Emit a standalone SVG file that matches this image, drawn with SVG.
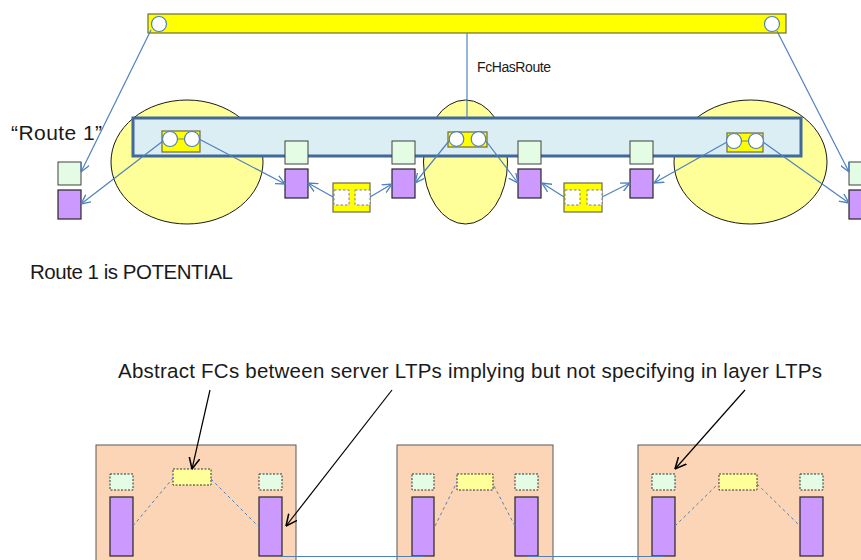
<svg xmlns="http://www.w3.org/2000/svg" width="861" height="560" viewBox="0 0 861 560">
<defs>
<marker id="ab" viewBox="0 0 10 10" refX="9.5" refY="5" markerWidth="10" markerHeight="10" markerUnits="userSpaceOnUse" orient="auto"><path d="M0,0.5 L9.5,5 L0,9.5" fill="none" stroke="#4F81BD" stroke-width="1.3"/></marker>
<marker id="ak" viewBox="0 0 10 10" refX="9.5" refY="5" markerWidth="12" markerHeight="12" markerUnits="userSpaceOnUse" orient="auto"><path d="M0,0.5 L9.5,5 L0,9.5" fill="none" stroke="#000" stroke-width="1.3"/></marker>
</defs>
<style>
text{font-family:"Liberation Sans",Arial,sans-serif;fill:#1a1a1a}
.bar{fill:#FFFF00;stroke:#6b6b4a;stroke-width:1.2}
.cir{fill:#fff;stroke:#4F81BD;stroke-width:1.2}
.ell{fill:#FFFF99;stroke:#1a1a1a;stroke-width:1}
.grn{fill:#E3FCE3;stroke:#404040;stroke-width:1}
.pur{fill:#CC99FF;stroke:#262626;stroke-width:1.2}
.wd{fill:#fff;stroke:#7f7f7f;stroke-width:1;stroke-dasharray:2.5,2}
.gd{fill:#E3FCE3;stroke:#333;stroke-width:1;stroke-dasharray:2,1.5}
.yd{fill:#FFFF99;stroke:#333;stroke-width:1;stroke-dasharray:2,1.5}
.box{fill:#FBD5B5;stroke:#595959;stroke-width:1}
.ar{fill:none;stroke:#4F81BD;stroke-width:1.2;marker-end:url(#ab)}
.ka{fill:none;stroke:#000;stroke-width:1.2;marker-end:url(#ak)}
.dl{fill:none;stroke:#4F81BD;stroke-width:1;stroke-dasharray:3,3}
.sl{fill:none;stroke:#4F81BD;stroke-width:1.2}
</style>
<g id="ellipses">
<ellipse class="ell" cx="187" cy="162" rx="76" ry="62"/>
<ellipse class="ell" cx="465.5" cy="162" rx="42" ry="62"/>
<ellipse class="ell" cx="750.5" cy="162" rx="76.5" ry="62"/>
</g>
<g id="fc-top">
<rect class="bar" x="148" y="14" width="638" height="19"/>
<circle class="cir" cx="159" cy="24" r="7.5"/>
<circle class="cir" cx="772" cy="24" r="7.5"/>
</g>
<g id="route">
<rect x="133" y="118" width="668" height="38" fill="#DBEEF4" stroke="#41699A" stroke-width="3"/>
</g>
<g id="twin1">
<rect class="bar" x="162" y="131" width="38" height="21"/>
<line x1="170" y1="139" x2="192" y2="139" stroke="#7f7f7f"/>
<circle class="cir" cx="170" cy="139" r="7.5"/><circle class="cir" cx="192" cy="139" r="7.5"/>
</g>
<g id="twin2">
<rect class="bar" x="448" y="132" width="39" height="15"/>
<circle class="cir" cx="456.5" cy="139" r="7.3"/><circle class="cir" cx="478.5" cy="139" r="7.3"/>
</g>
<g id="twin3">
<rect class="bar" x="727" y="133" width="36" height="19"/>
<line x1="734" y1="141" x2="756" y2="141" stroke="#7f7f7f"/>
<circle class="cir" cx="734" cy="141" r="7.5"/><circle class="cir" cx="756" cy="141" r="7.5"/>
</g>
<g id="ltp0"><rect class="grn" x="58" y="162" width="23" height="23"/><rect class="pur" x="58" y="190" width="23" height="29"/></g>
<g id="ltp1"><rect class="grn" x="285" y="141" width="23" height="23"/><rect class="pur" x="285" y="169" width="23" height="29"/></g>
<g id="ltp2"><rect class="grn" x="392" y="141" width="23" height="23"/><rect class="pur" x="392" y="169" width="23" height="29"/></g>
<g id="ltp3"><rect class="grn" x="518" y="141" width="23" height="23"/><rect class="pur" x="518" y="169" width="23" height="29"/></g>
<g id="ltp4"><rect class="grn" x="630" y="141" width="23" height="23"/><rect class="pur" x="630" y="169" width="23" height="29"/></g>
<g id="ltp5"><rect class="grn" x="849" y="162" width="23" height="23"/><rect class="pur" x="849" y="190" width="23" height="29"/></g>
<g id="link1">
<rect class="bar" x="333" y="183" width="37" height="29"/>
<rect class="wd" x="334" y="190" width="15" height="15"/><rect class="wd" x="355" y="190" width="15" height="15"/>
</g>
<g id="link2">
<rect class="bar" x="564" y="183" width="38" height="29"/>
<rect class="wd" x="565" y="190" width="15" height="15"/><rect class="wd" x="587" y="190" width="15" height="15"/>
</g>
<g id="connectors">
<line class="sl" x1="467" y1="33" x2="467" y2="118"/>
<line class="ar" x1="151" y1="30" x2="81" y2="172"/>
<line class="ar" x1="163" y1="141" x2="81" y2="204"/>
<line class="ar" x1="199" y1="139" x2="285" y2="184"/>
<line class="ar" x1="333" y1="197" x2="308" y2="183"/>
<line class="ar" x1="370" y1="197" x2="392" y2="184"/>
<line class="ar" x1="449" y1="141" x2="415" y2="183"/>
<line class="ar" x1="486" y1="141" x2="518" y2="183"/>
<line class="ar" x1="564" y1="197" x2="542" y2="183"/>
<line class="ar" x1="602" y1="197" x2="630" y2="183"/>
<line class="ar" x1="727" y1="142" x2="654" y2="183"/>
<line class="ar" x1="763" y1="142" x2="849" y2="203"/>
<line class="ar" x1="777" y1="31" x2="849" y2="172"/>
</g>
<g id="labels">
<text x="477" y="72" font-size="14" textLength="74">FcHasRoute</text>
<text x="11" y="140" font-size="21" textLength="91">“Route 1”</text>
<text x="30" y="279" font-size="20.5" textLength="203">Route 1 is POTENTIAL</text>
<text x="118" y="378" font-size="20.5" textLength="704">Abstract FCs between server LTPs implying but not specifying in layer LTPs</text>
</g>
<g id="box1">
<rect class="box" x="96" y="445" width="200" height="130"/>
<rect class="gd" x="110" y="474" width="23" height="16"/>
<rect class="yd" x="173" y="469" width="38" height="16"/>
<rect class="gd" x="259" y="474" width="23" height="16"/>
<rect class="pur" x="110" y="497" width="23" height="59"/>
<rect class="pur" x="259" y="497" width="23" height="59"/>
</g>
<g id="box2">
<rect class="box" x="397" y="445" width="156" height="130"/>
<rect class="gd" x="412" y="474" width="22" height="16"/>
<rect class="yd" x="457" y="474" width="36" height="16"/>
<rect class="gd" x="515" y="474" width="23" height="16"/>
<rect class="pur" x="412" y="497" width="22" height="59"/>
<rect class="pur" x="515" y="497" width="23" height="59"/>
</g>
<g id="box3">
<rect class="box" x="638" y="445" width="240" height="130"/>
<rect class="gd" x="652" y="474" width="23" height="16"/>
<rect class="yd" x="719" y="474" width="38" height="16"/>
<rect class="gd" x="800" y="474" width="23" height="16"/>
<rect class="pur" x="652" y="497" width="23" height="59"/>
<rect class="pur" x="800" y="497" width="23" height="59"/>
</g>
<g id="lower-connectors">
<line class="dl" x1="133" y1="526" x2="173" y2="478"/>
<line class="dl" x1="211" y1="479" x2="259" y2="527"/>
<line class="dl" x1="435" y1="526" x2="457" y2="482"/>
<line class="dl" x1="494" y1="486" x2="515" y2="526"/>
<line class="dl" x1="675" y1="526" x2="719" y2="483"/>
<line class="dl" x1="757" y1="484" x2="800" y2="526"/>
<line class="sl" x1="282" y1="556.5" x2="423" y2="556.5"/>
<line class="sl" x1="527" y1="556.5" x2="663" y2="556.5"/>
<line class="ka" x1="210" y1="390" x2="192" y2="469"/>
<line class="ka" x1="392" y1="390" x2="286" y2="526"/>
<line class="ka" x1="745" y1="390" x2="675" y2="469"/>
</g>
</svg>
